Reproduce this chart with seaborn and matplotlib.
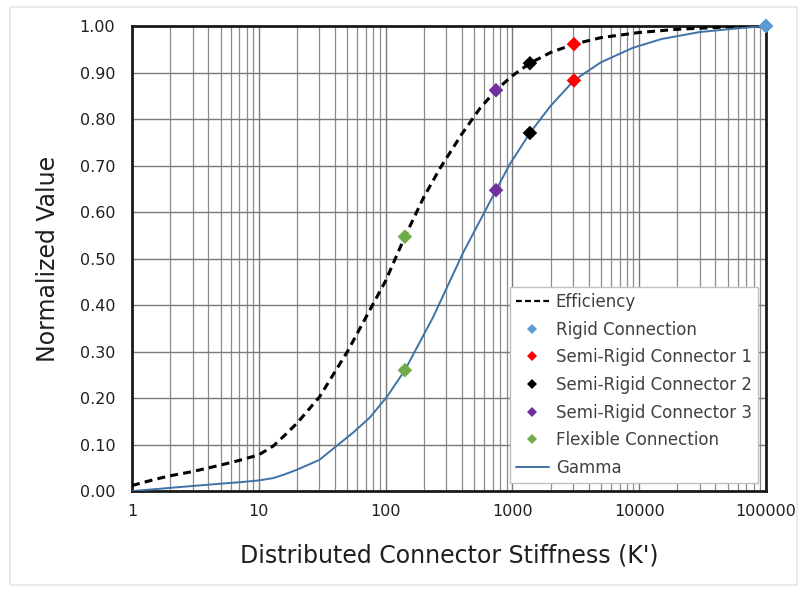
"""Normalized efficiency and gamma vs distributed connector stiffness."""

import matplotlib

matplotlib.use("Agg")
import matplotlib.pyplot as plt
import matplotlib.ticker as mticker
import pandas as pd
import seaborn as sns
from matplotlib.lines import Line2D
from matplotlib.patches import Rectangle

# curves
eff_k = [1, 1.5, 2, 3, 5, 7, 10, 13, 16, 20, 30, 50, 75, 100, 142, 200, 270,
         400, 555, 743, 1000, 1375, 2000, 3060, 5000, 10000, 20000, 50000, 100000]
eff_val = [0.012, 0.025, 0.033, 0.042, 0.056, 0.066, 0.078, 0.097, 0.120, 0.146,
           0.202, 0.300, 0.389, 0.452, 0.547, 0.632, 0.695, 0.768, 0.823, 0.862,
           0.893, 0.920, 0.943, 0.961, 0.975, 0.986, 0.993, 0.998, 1.000]

gam_k = [1, 2, 3, 5, 7, 10, 13, 16, 20, 30, 55, 75, 102, 142, 237, 408, 743,
         955, 1375, 2000, 3060, 5000, 8900, 15000, 30000, 60000, 100000]
gam_val = [0.000, 0.007, 0.011, 0.016, 0.019, 0.023, 0.028, 0.036, 0.046, 0.067,
           0.125, 0.158, 0.202, 0.260, 0.374, 0.512, 0.647, 0.703, 0.770, 0.828,
           0.883, 0.922, 0.953, 0.972, 0.987, 0.995, 1.000]

# connection points
conn_names = ["Rigid Connection", "Semi-Rigid Connector 1", "Semi-Rigid Connector 2",
              "Semi-Rigid Connector 3", "Flexible Connection"]
conn_k = [100000, 3060, 1375, 743, 142]
conn_eff = [1.000, 0.961, 0.920, 0.862, 0.547]
conn_gam = [1.000, 0.883, 0.770, 0.647, 0.260]
conn_colors = ["#5B9BD5", "#FF0000", "#000000", "#7030A0", "#70AD47"]

GAMMA_COLOR = "#3F72A6"
TEXT_COLOR = "#1f1f1f"

sns.set_style("white")
plt.rcParams["font.family"] = ["DejaVu Sans"]

fig = plt.figure(figsize=(8.07, 5.91), dpi=100)
ax = fig.add_axes([0.1636, 0.169, 0.7855, 0.787])

# light frame around the whole picture
fig.patches.append(Rectangle((0.012, 0.01), 0.975, 0.978, transform=fig.transFigure,
                             fill=False, edgecolor="#e6e6e6", linewidth=1.2))

eff_df = pd.DataFrame({"k": eff_k, "v": eff_val})
gam_df = pd.DataFrame({"k": gam_k, "v": gam_val})

sns.lineplot(data=eff_df, x="k", y="v", ax=ax, color="black", linewidth=2.2, zorder=3)
ax.lines[-1].set_dashes([2.6, 1.7])
sns.lineplot(data=gam_df, x="k", y="v", ax=ax, color=GAMMA_COLOR, linewidth=1.4,
             zorder=3)

pts = pd.DataFrame({
    "name": conn_names * 2,
    "k": conn_k * 2,
    "v": conn_eff + conn_gam,
})
sns.scatterplot(data=pts, x="k", y="v", hue="name", palette=dict(zip(conn_names, conn_colors)),
                marker="D", s=55, linewidth=0, ax=ax, legend=False, zorder=4, clip_on=False)

ax.set_xscale("log")
ax.set_xlim(1, 100000)
ax.set_ylim(0, 1.0)
ax.set_yticks([i / 10 for i in range(11)])
ax.yaxis.set_major_formatter(mticker.FormatStrFormatter("%.2f"))
ax.xaxis.set_major_locator(mticker.LogLocator(base=10, numticks=10))
ax.xaxis.set_major_formatter(mticker.FuncFormatter(lambda v, p: f"{v:.0f}"))
ax.xaxis.set_minor_locator(mticker.LogLocator(base=10, subs=range(2, 10), numticks=20))
ax.xaxis.set_minor_formatter(mticker.NullFormatter())

ax.grid(True, which="major", color="#7a7a7a", linewidth=1.0)
ax.grid(True, which="minor", axis="x", color="#8c8c8c", linewidth=0.9)
ax.set_axisbelow(True)
ax.tick_params(axis="both", which="both", length=0, labelsize=11.5, colors=TEXT_COLOR)
ax.tick_params(axis="y", pad=12)
ax.tick_params(axis="x", pad=9)

for sp in ax.spines.values():
    sp.set_visible(True)
    sp.set_color("#1a1a1a")
    sp.set_linewidth(2.0)

ax.set_xlabel("Distributed Connector Stiffness (K')", fontsize=17, labelpad=18, color=TEXT_COLOR)
ax.set_ylabel("Normalized Value", fontsize=17, labelpad=14, color=TEXT_COLOR)

handles = [Line2D([], [], color="black", linewidth=1.6, dashes=[2.6, 1.5])]
labels = ["Efficiency"]
for n, c in zip(conn_names, conn_colors):
    handles.append(Line2D([], [], linestyle="none", marker="D", markersize=5,
                          markerfacecolor=c, markeredgewidth=0))
    labels.append(n)
handles.append(Line2D([], [], color=GAMMA_COLOR, linewidth=1.4))
labels.append("Gamma")

leg = ax.legend(handles, labels, loc="lower right", fontsize=12, frameon=True,
                fancybox=False, edgecolor="#bfbfbf", framealpha=1, handlelength=2.0,
                handletextpad=0.4, labelspacing=0.58, borderaxespad=0.5, borderpad=0.35,
                labelcolor="#404040")
leg.get_frame().set_linewidth(1.0)

fig.savefig("out.png", dpi=100)
plt.close(fig)
